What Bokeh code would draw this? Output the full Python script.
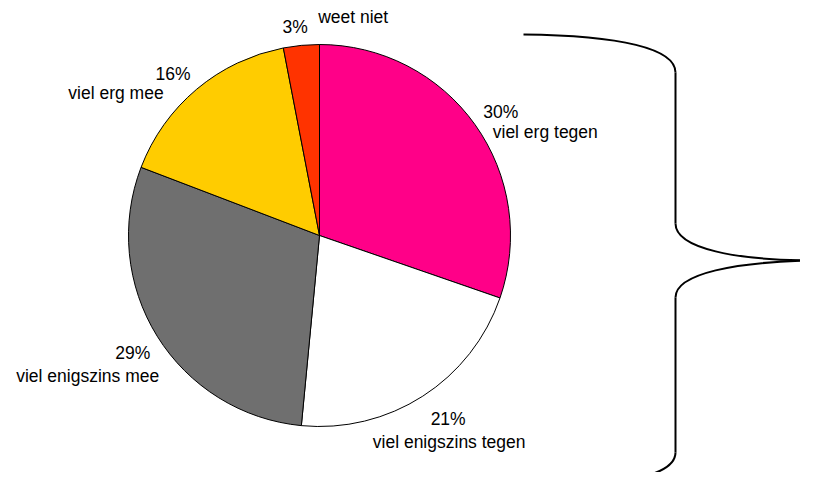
import numpy as np
from bokeh.plotting import figure
from bokeh.models import Range1d, ColumnDataSource
from bokeh.core.properties import value
from bokeh.embed import file_html
from bokeh.resources import INLINE

# ---- data ----
categories = ["viel erg tegen", "viel enigszins tegen", "viel enigszins mee", "viel erg mee", "weet niet"]
values = [30, 21, 29, 16, 3]
pct_labels = ["30%", "21%", "29%", "16%", "3%"]
colors = ["#FF0088", "#FFFFFF", "#6F6F6F", "#FFCC00", "#FF3300"]

# ---- layout (screen pixels, y downwards) ----
W, H = 800, 472
CX, CY, R = 319, 235, 191
LABEL_R = 1.12
# offsets of percentage label (centre x, baseline y) from the mid-angle point
pct_off = [(7, 1), (13, 4), (-5, 5), (-9, 2), (-4, 4)]
# category label relative to percentage label: (dx, dy, align)
cat_off = [(-8, 20, "left"), (1, 23, "center"), (-45, 23, "center"), (-57, 19, "center"), (23, -10, "left")]

def Y(y):  # screen y -> data y
    return H - y

p = figure(width=W, height=H, output_backend="svg", toolbar_location=None,
           x_range=Range1d(0, W), y_range=Range1d(0, H),
           x_axis_location=None, y_axis_location=None, min_border=0)
p.grid.visible = False
p.outline_line_color = None
p.background_fill_color = "white"
p.border_fill_color = "white"

vals = np.array(values, dtype=float)
frac = vals / vals.sum()
cum = np.concatenate([[0], np.cumsum(frac)])
start = np.pi / 2 - 2 * np.pi * cum[1:]
end = np.pi / 2 - 2 * np.pi * cum[:-1]

src = ColumnDataSource(dict(start=start, end=end, color=colors))
p.wedge(x=CX, y=Y(CY), radius=R, start_angle="start", end_angle="end",
        fill_color="color", line_color="black", line_width=1, source=src)

mid = 2 * np.pi * (cum[:-1] + cum[1:]) / 2  # clockwise from top
font = value("Liberation Sans")
for i in range(len(values)):
    mx = CX + LABEL_R * R * np.sin(mid[i])
    my = CY - LABEL_R * R * np.cos(mid[i])
    px, py = mx + pct_off[i][0], my + pct_off[i][1]
    p.text(x=[px], y=[Y(py)], text=[pct_labels[i]], text_font=font,
           text_font_size="17.5px", text_align="center", text_baseline="alphabetic",
           text_color="black")
    dx, dy, al = cat_off[i]
    p.text(x=[px + dx], y=[Y(py + dy)], text=[categories[i]], text_font=font,
           text_font_size="17.5px", text_align=al, text_baseline="alphabetic",
           text_color="black")

# ---- curly brace (decoration) ----
bx0, bx1, tipx = 523, 675, 816
segs = [
    ((bx0, 34), (620, 35), (675, 48), (bx1, 72)),
    ((bx1, 223), (675, 248), (735, 260), (tipx, 260)),
    ((tipx, 260), (735, 261), (675, 273), (bx1, 297)),
    ((bx1, 452), (675, 476), (620, 486), (bx0, 487)),
]
p.bezier(x0=[s[0][0] for s in segs], y0=[Y(s[0][1]) for s in segs],
         cx0=[s[1][0] for s in segs], cy0=[Y(s[1][1]) for s in segs],
         cx1=[s[2][0] for s in segs], cy1=[Y(s[2][1]) for s in segs],
         x1=[s[3][0] for s in segs], y1=[Y(s[3][1]) for s in segs],
         line_color="black", line_width=2)
p.segment(x0=[bx1, bx1], y0=[Y(72), Y(297)], x1=[bx1, bx1], y1=[Y(223), Y(452)],
          line_color="black", line_width=2)

open("out.html", "w").write(file_html(p, INLINE))
